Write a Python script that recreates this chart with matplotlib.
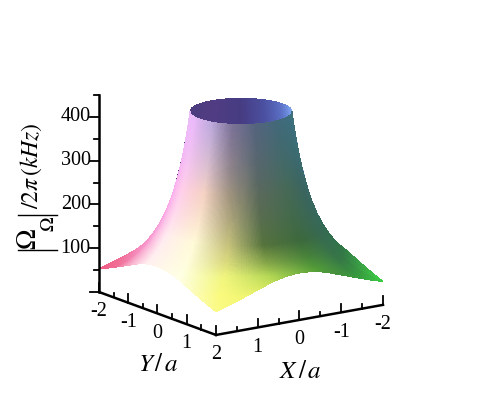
import numpy as np
import matplotlib
matplotlib.use('Agg')
import matplotlib.pyplot as plt
from matplotlib.lines import Line2D
from mpl_toolkits.mplot3d import proj3d

plt.rcParams['font.family'] = ['Liberation Serif', 'DejaVu Serif']
plt.rcParams['mathtext.fontset'] = 'stix'

# height of the surface against distance from the centre
r_read = [1.0, 1.05, 1.1, 1.15, 1.2, 1.3, 1.4, 1.5, 1.6, 1.8, 2.0, 2.2, 2.4, 2.6, 2.83]
z_read = [427, 387, 353, 323, 297, 253, 218, 190, 167, 132, 107, 88, 74, 63, 53]

# surface colours: rows are distances, columns are angles
colour_r = [1.0, 1.25, 1.6, 2.0, 2.4, 2.83]
colour_angle = [-35, -10, 20, 45, 70, 100, 125, 145]
colour_red = [[235, 235, 190, 125, 85, 65, 60, 65],
              [250, 255, 245, 160, 90, 70, 58, 60],
              [250, 255, 255, 200, 85, 60, 55, 50],
              [245, 255, 255, 240, 180, 85, 55, 50],
              [240, 255, 255, 250, 230, 85, 55, 60],
              [240, 255, 255, 250, 230, 85, 60, 60]]
colour_green = [[190, 185, 170, 115, 100, 105, 110, 115],
                [170, 205, 210, 148, 105, 105, 100, 105],
                [160, 235, 250, 195, 115, 105, 105, 105],
                [140, 240, 255, 245, 215, 160, 120, 120],
                [110, 255, 255, 250, 240, 160, 155, 170],
                [90, 255, 255, 250, 240, 160, 205, 215]]
colour_blue = [[250, 250, 220, 150, 125, 120, 125, 125],
               [240, 235, 195, 125, 90, 85, 95, 105],
               [220, 240, 215, 125, 60, 60, 80, 85],
               [190, 240, 225, 125, 85, 55, 70, 70],
               [150, 255, 240, 125, 100, 55, 60, 70],
               [130, 255, 255, 135, 100, 55, 70, 70]]

# colour of the inside wall seen through the opening
inner_angle = [145, 165, 185, 208, 235, 265, 325]
inner_red = [135, 115, 90, 75, 70, 80, 75]
inner_green = [175, 150, 110, 80, 60, 60, 60]
inner_blue = [245, 230, 195, 160, 130, 130, 125]

x_ticks = [1, 0, -1, -2]
y_ticks = [-2, -1, 0, 1, 2]
z_ticks = [100, 200, 300, 400]
xy_minor = [-1.5, -0.5, 0.5, 1.5]
z_minor = [50, 150, 250, 350]
z_top = 450

fig = plt.figure(figsize=(4.82, 4), dpi=100)
ax = fig.add_axes([0, 0, 1, 1], projection='3d', proj_type='ortho')
ax.view_init(elev=14.9, azim=55)
ax.set_xlim(-2, 2)
ax.set_ylim(-2, 2)
ax.set_zlim(0, z_top)
ax.set_axis_off()
ax.computed_zorder = False


def lookup(table, angle, r):
    # bilinear look-up in a colour table
    table = np.array(table, dtype=float)
    i = np.interp(angle, colour_angle, np.arange(len(colour_angle)))
    j = np.interp(r, colour_r, np.arange(len(colour_r)))
    i0 = np.minimum(i.astype(int), len(colour_angle) - 2)
    j0 = np.minimum(j.astype(int), len(colour_r) - 2)
    fi = i - i0
    fj = j - j0
    return ((1 - fj) * ((1 - fi) * table[j0, i0] + fi * table[j0, i0 + 1])
            + fj * ((1 - fi) * table[j0 + 1, i0] + fi * table[j0 + 1, i0 + 1]))


# render mesh from the round rim out to the square edge, heights come from the table
angle = np.linspace(-125, 235, 361)
s = np.linspace(0, 1, 90)
angle_grid, s_grid = np.meshgrid(angle, s)
rad = np.radians(angle_grid)
edge = 2 / np.maximum(np.abs(np.cos(rad)), np.abs(np.sin(rad)))
r_grid = 1 + s_grid * (edge - 1)
X = r_grid * np.cos(rad)
Y = r_grid * np.sin(rad)
Z = np.interp(r_grid, r_read, z_read)

rgb = np.dstack([lookup(colour_red, angle_grid, r_grid),
                 lookup(colour_green, angle_grid, r_grid),
                 lookup(colour_blue, angle_grid, r_grid)])
wrapped = np.where(angle_grid < -35, angle_grid + 360, angle_grid)
inner = np.dstack([np.interp(wrapped, inner_angle, inner_red),
                   np.interp(wrapped, inner_angle, inner_green),
                   np.interp(wrapped, inner_angle, inner_blue)])
is_inner = ((angle_grid < -35) | (angle_grid > 145)) & (r_grid < 1.25)
rgb[is_inner] = inner[is_inner]

ax.plot_surface(X, Y, Z, facecolors=rgb[:-1, :-1] / 255, rstride=1, cstride=1,
                shade=False, linewidth=0, antialiased=False, zorder=1)

# axis lines and ticks, Maple style
line = dict(color='black', lw=1.8, solid_capstyle='projecting', zorder=3)
tick = dict(color='black', lw=1.3, zorder=3)
ax.plot([2, 2], [-2, -2], [0, z_top], **line)
ax.plot([2, 2], [-2, 2], [0, 0], **line)
ax.plot([2, -2], [2, 2], [0, 0], **line)

for v in y_ticks:
    ax.plot([2, 2], [v, v], [0, 20], **tick)
for v in xy_minor:
    ax.plot([2, 2], [v, v], [0, 10], **tick)
for v in x_ticks:
    ax.plot([v, v], [2, 2], [0, 20], **tick)
for v in xy_minor:
    ax.plot([v, v], [2, 2], [0, 10], **tick)

# screen-left direction in the floor plane, for the z ticks
lx, ly = np.sin(np.radians(55)), -np.cos(np.radians(55))
for v in z_ticks + [0]:
    ax.plot([2, 2 + 0.18 * lx], [-2, -2 + 0.18 * ly], [v, v], **tick)
for v in z_minor + [z_top]:
    ax.plot([2, 2 + 0.09 * lx], [-2, -2 + 0.09 * ly], [v, v], **tick)

fig.text(158 / 482, 1 - 365 / 400, r'$Y\,/\,a$', ha='center', va='center', fontsize=18)
fig.text(300 / 482, 1 - 372 / 400, r'$X\,/\,a$', ha='center', va='center', fontsize=18)

# rotated z label, built from pieces so the fraction has no rule
fig.text(31 / 482, 1 - 166 / 400, r'$/2\pi\,(kHz)$', rotation=90,
         ha='center', va='center', fontsize=17)
fig.text(30 / 482, 1 - 239 / 400, r'$\Omega$', rotation=90,
         ha='center', va='center', fontsize=20)
fig.text(49 / 482, 1 - 224 / 400, r'$\mathit{\Omega}$', rotation=90,
         ha='center', va='center', fontsize=14)
for bar_y in [215, 250]:
    fig.add_artist(Line2D([18 / 482, 57 / 482], [1 - bar_y / 400, 1 - bar_y / 400],
                          color='black', lw=1.0))


def to_pixels(x, y, z):
    px, py, _ = proj3d.proj_transform(x, y, z, ax.get_proj())
    return ax.transData.transform((px, py))


# fit the box onto the picture: corners at (99, 292) and (383, 305) in image pixels
ax.set_box_aspect((1, 1, 1), zoom=1.0)
fig.canvas.draw()
a = to_pixels(2, -2, 0)
b = to_pixels(-2, 2, 0)
ax.set_box_aspect((1, 1, 1), zoom=284 / (b[0] - a[0]))
fig.canvas.draw()
a = to_pixels(2, -2, 0)
ax.set_position([(99 - a[0]) / 482, ((400 - 292) - a[1]) / 400, 1, 1])


def tick_label(x, y, z, s, **kw):
    # flat text placed at the projected position of a point on the box
    px, py, _ = proj3d.proj_transform(x, y, z, ax.get_proj())
    ax.text2D(px, py, s, transform=ax.transData, va='center', fontsize=14.5, **kw)


for v in y_ticks:
    tick_label(2, v, -45, str(v), ha='center')
for v in x_ticks:
    tick_label(v, 2, -45, str(v), ha='center')
for v in z_ticks:
    tick_label(2 + 0.16 * lx, -2 + 0.16 * ly, v, str(v), ha='right')

fig.savefig('out.png', dpi=100)
